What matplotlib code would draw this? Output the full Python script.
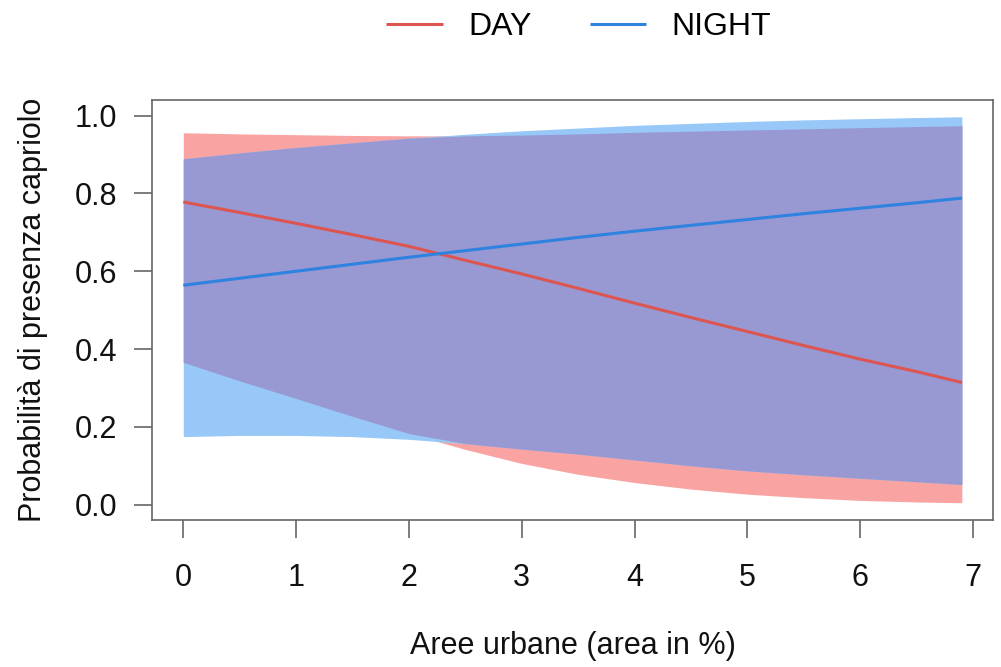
import matplotlib
matplotlib.use("Agg")
import matplotlib.pyplot as plt
import numpy as np

plt.rcParams['font.family'] = ['Liberation Sans', 'DejaVu Sans']

# Data
x = [0, 0.5, 1, 1.5, 2, 2.5, 3, 3.5, 4, 4.5, 5, 5.5, 6, 6.5, 6.9]
day_fit = [0.778, 0.751, 0.723, 0.694, 0.664, 0.628, 0.593, 0.556, 0.518, 0.481, 0.445, 0.409, 0.374, 0.342, 0.314]
day_upper = [0.956, 0.953, 0.951, 0.949, 0.948, 0.948, 0.950, 0.953, 0.957, 0.960, 0.963, 0.966, 0.969, 0.972, 0.974]
day_lower = [0.366, 0.318, 0.273, 0.227, 0.183, 0.142, 0.106, 0.078, 0.057, 0.040, 0.027, 0.018, 0.011, 0.007, 0.005]
night_fit = [0.564, 0.582, 0.600, 0.618, 0.636, 0.653, 0.670, 0.687, 0.703, 0.718, 0.733, 0.748, 0.762, 0.776, 0.788]
night_upper = [0.889, 0.904, 0.918, 0.930, 0.942, 0.952, 0.961, 0.968, 0.975, 0.980, 0.985, 0.989, 0.992, 0.995, 0.997]
night_lower = [0.175, 0.178, 0.178, 0.175, 0.168, 0.157, 0.143, 0.130, 0.115, 0.100, 0.087, 0.077, 0.068, 0.059, 0.052]

series_labels = ["DAY", "NIGHT"]
x_ticks = [0, 1, 2, 3, 4, 5, 6, 7]
y_ticks = [0.0, 0.2, 0.4, 0.6, 0.8, 1.0]
y_ticklabels = ["0.0", "0.2", "0.4", "0.6", "0.8", "1.0"]
xlabel = "Aree urbane (area in %)"
ylabel = "Probabilità di presenza capriolo"

RED_FILL = "#F9A3A3"
BLUE_FILL = "#98C8F8"
OVERLAP = "#9898D2"
RED_LINE = "#DD5550"
BLUE_LINE = "#2E82E0"
GREY = "#666666"

fig = plt.figure(figsize=(10.01, 6.67), dpi=100)
ax = fig.add_axes([0.152, 0.220, 0.840, 0.630])

xa = np.array(x)
dl, du = np.array(day_lower), np.array(day_upper)
nl, nu = np.array(night_lower), np.array(night_upper)
ax.fill_between(xa, dl, du, color=RED_FILL, lw=0)
ax.fill_between(xa, nl, nu, color=BLUE_FILL, lw=0)
lo = np.maximum(dl, nl)
hi = np.minimum(du, nu)
ax.fill_between(xa, lo, hi, where=hi > lo, color=OVERLAP, lw=0, interpolate=True)

l1, = ax.plot(x, day_fit, color=RED_LINE, lw=2.2, solid_capstyle='butt')
l2, = ax.plot(x, night_fit, color=BLUE_LINE, lw=2.2, solid_capstyle='butt')

ax.set_xlim(-0.276, 7.176)
ax.set_ylim(-0.04, 1.04)
ax.set_xticks(x_ticks)
ax.set_yticks(y_ticks)
ax.set_yticklabels(y_ticklabels)

for s in ax.spines.values():
    s.set_color(GREY)
    s.set_linewidth(1.2)
ax.tick_params(axis='both', direction='out', length=13, width=1.2, color=GREY,
               labelsize=22, labelcolor='#111111')
ax.tick_params(axis='x', pad=18)
ax.tick_params(axis='y', pad=12)

ax.set_xlabel(xlabel, fontsize=22, color='#111111', labelpad=27)
ax.set_ylabel(ylabel, fontsize=22, color='#111111', labelpad=19)

fig.legend([l1, l2], series_labels, loc='center', bbox_to_anchor=(0.578, 0.9595),
           ncol=2, frameon=False, fontsize=23, handlelength=1.78,
           handletextpad=0.78, columnspacing=1.82)

fig.savefig("out.png", dpi=100)
